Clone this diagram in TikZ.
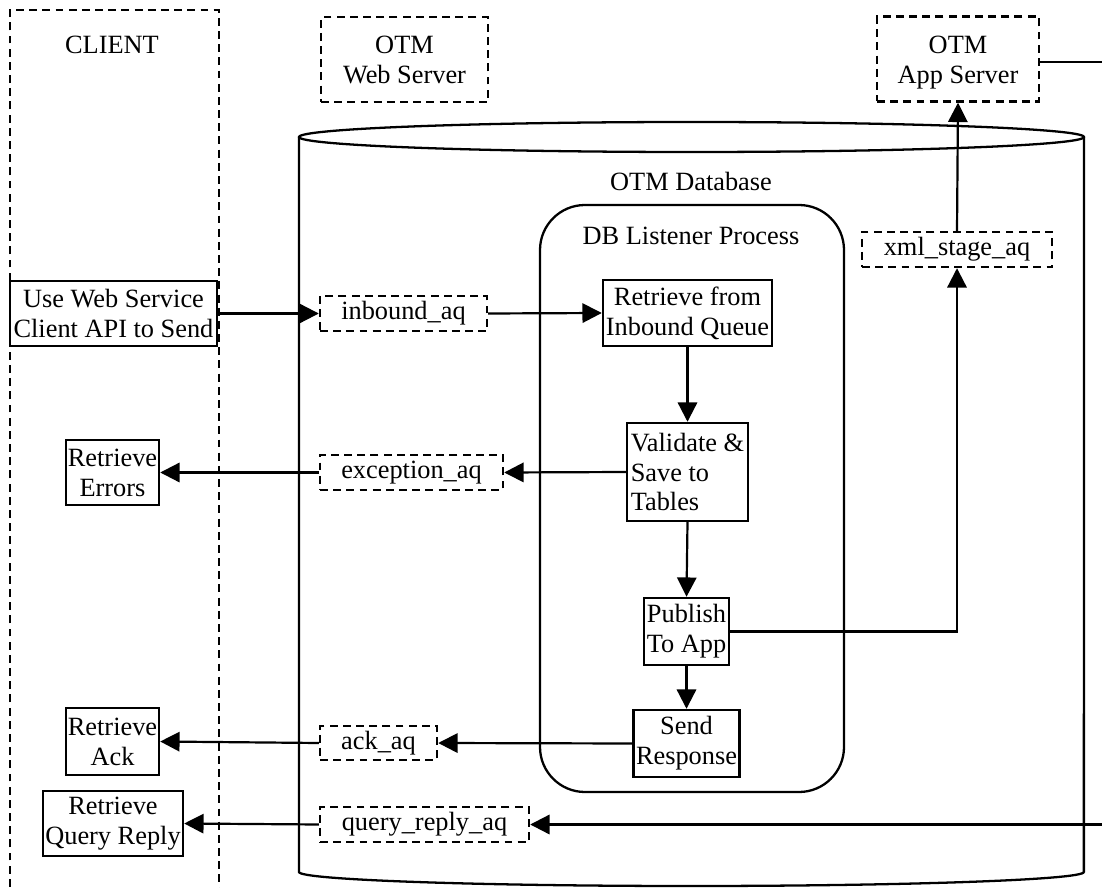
\documentclass[tikz,border=0pt]{standalone}
\usepackage{fontspec}
\setmainfont{Liberation Serif}
\usetikzlibrary{arrows.meta}
\begin{document}
\begin{tikzpicture}[x=0.02cm,y=-0.02cm,
  every node/.style={font=\fontsize{15}{17}\selectfont, inner sep=1pt},
  sbox/.style={draw, line width=1.4pt, align=center},
  qbox/.style={draw, line width=1.4pt, dash pattern=on 4.5pt off 3pt, align=center},
  conn/.style={line width=1.25pt},
  arr/.style={conn, -{Triangle[length=11pt,width=11pt]}}]
\useasboundingbox (0,0) rectangle (1102,888);
\clip (0,0) rectangle (1102,888);
% client column
\draw[line width=1.4pt, dash pattern=on 4.5pt off 3pt] (10,900) -- (10,10) -- (219,10) -- (219,900);
\node (clientlbl) at (112,45) {CLIENT};
% servers
\node[qbox, minimum width=3.34cm, minimum height=1.70cm] (web) at (404.5,59.5) {\rule{0pt}{14.5pt}OTM\\Web Server\rule[-4pt]{0pt}{4pt}};
\node[qbox, minimum width=3.24cm, minimum height=1.70cm] (app) at (958,59) {\rule{0pt}{14.5pt}OTM\\App Server\rule[-4pt]{0pt}{4pt}};
% cylinder
\draw[line width=1.3pt] (299,137) -- (299,872) arc[start angle=180, end angle=360, x radius=7.85cm, y radius=0.28cm] -- (1084,137);
\draw[line width=1.3pt] (691.5,137) ellipse [x radius=7.85cm, y radius=0.30cm];
\node (dblbl) at (691,181) {OTM Database};
% listener
\draw[line width=1.3pt, rounded corners=0.9cm] (540,205) rectangle (844,792);
\node (listlbl) at (691,236) {DB Listener Process};
% client boxes
\node[sbox, minimum width=4.14cm, minimum height=1.30cm] (usews) at (113.5,313.5) {Use Web Service\\Client API to Send};
\node[sbox, minimum width=1.86cm, minimum height=1.30cm] (errors) at (112.5,472.5) {Retrieve\\Errors};
\node[sbox, minimum width=1.86cm, minimum height=1.34cm] (ack) at (112.5,741.5) {Retrieve\\Ack};
\node[sbox, minimum width=2.80cm, minimum height=1.30cm] (qr) at (113,823.5) {Retrieve\\Query Reply};
% queues
\node[qbox, minimum width=3.34cm, minimum height=0.70cm] (inbound) at (403.5,313.5) {inbound\_aq};
\node[qbox, minimum width=3.66cm, minimum height=0.70cm] (exception) at (411.5,472.5) {exception\_aq};
\node[qbox, minimum width=2.34cm, minimum height=0.68cm] (ackq) at (378.5,743) {ack\_aq};
\node[qbox, minimum width=4.18cm, minimum height=0.70cm] (qrq) at (424.5,824.5) {query\_reply\_aq};
\node[qbox, minimum width=3.80cm, minimum height=0.70cm] (xml) at (957,249.5) {xml\_stage\_aq};
% process boxes
\node[sbox, minimum width=3.38cm, minimum height=1.32cm] (retrieve) at (687.5,313) {Retrieve from\\Inbound Queue};
\node[sbox, align=left, minimum width=2.42cm, minimum height=1.96cm] (validate) at (687.5,472) {Validate \&\\Save to\\Tables};
\node[sbox, minimum width=1.70cm, minimum height=1.34cm] (publish) at (686.5,631.5) {Publish\\To App};
\node[sbox, minimum width=2.12cm, minimum height=1.34cm] (send) at (686.5,743.5) {Send\\Response};
% connectors
\draw[arr] (usews.east) -- (inbound.west);
\draw[arr] (inbound.east) -- (retrieve.west);
\draw[arr] (retrieve.south) -- (validate.north);
\draw[arr] (validate.west) -- (exception.east);
\draw[arr] (exception.west) -- (errors.east);
\draw[arr] (validate.south) -- (publish.north);
\draw[arr] (publish.south) -- (send.north);
\draw[arr] (publish.east) -| (xml.south);
\draw[arr] (xml.north) -- (app.south);
\draw[arr] (send.west) -- (ackq.east);
\draw[arr] (ackq.west) -- (ack.east);
\coordinate (outtop) at (1115,62);
\coordinate (outbot) at (1115,824.5);
\draw[arr] (app.east |- outtop) -- (outtop) -- (outbot) -- (qrq.east);
\draw[arr] (qrq.west) -- (qr.east);
\end{tikzpicture}
\end{document}
